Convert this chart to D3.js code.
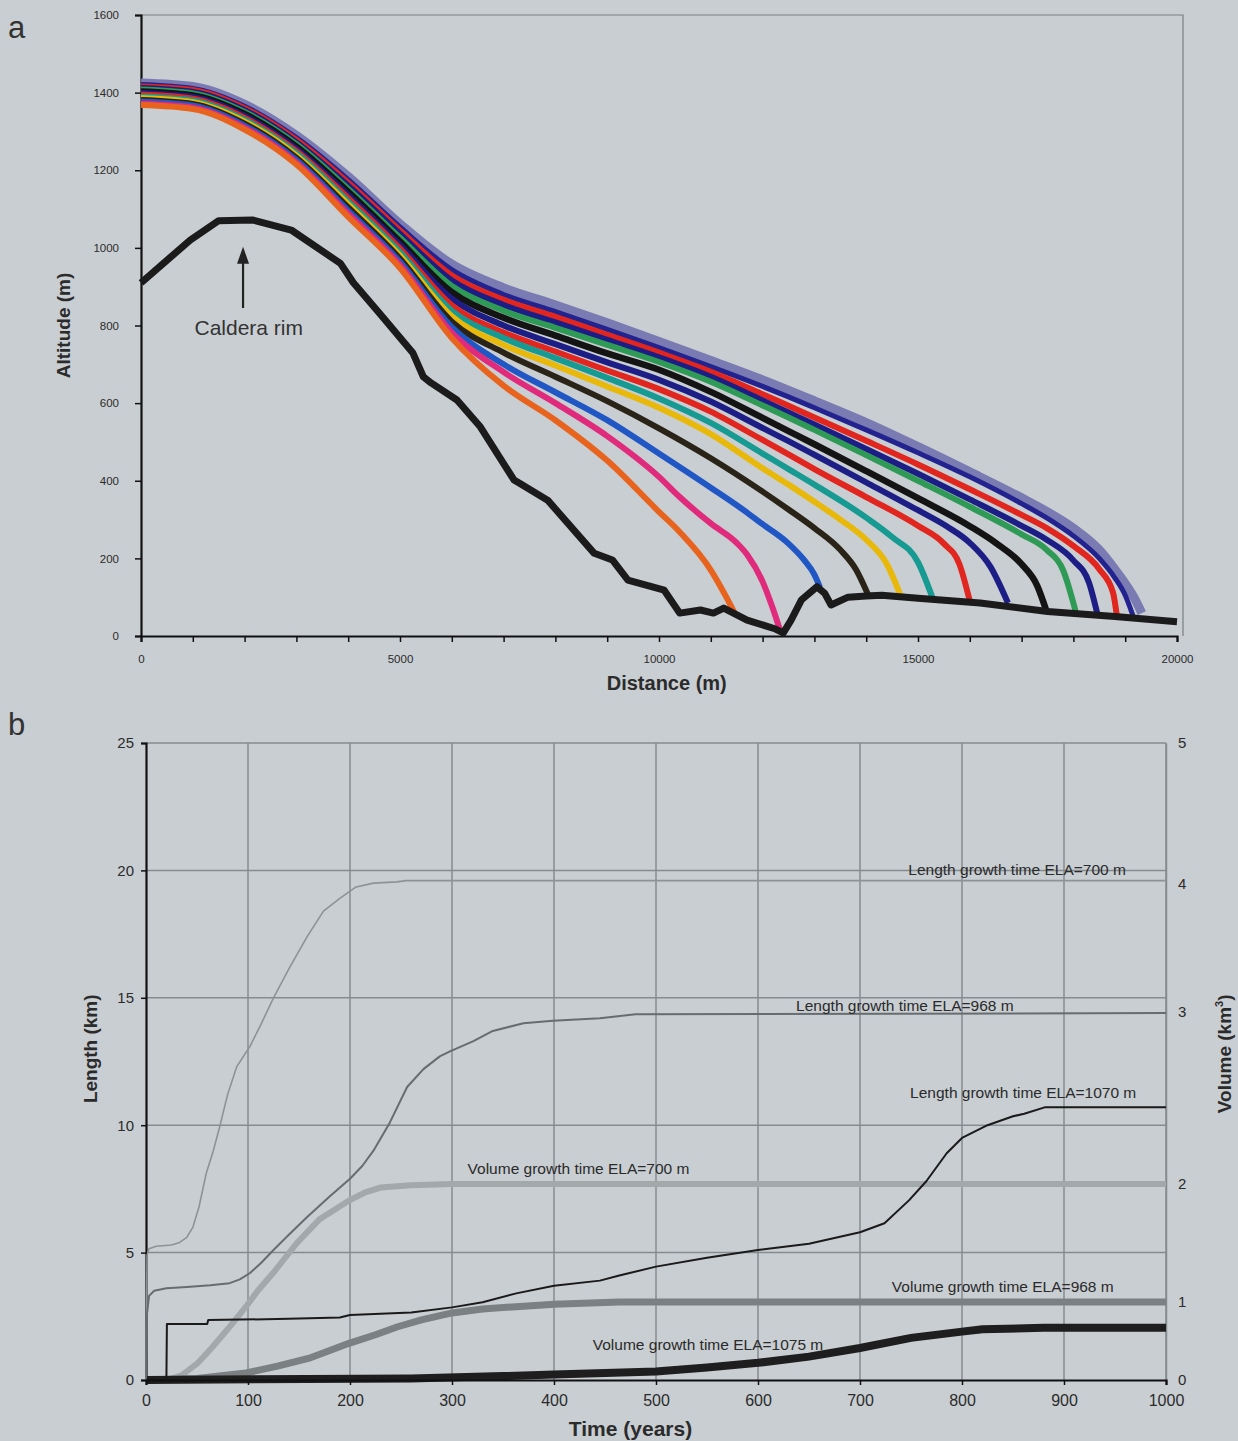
<!DOCTYPE html>
<html>
<head>
<meta charset="utf-8">
<script src="https://cdn.jsdelivr.net/npm/d3@7"></script>
<style>
    body { margin: 0; background: #c9ced2; }
    svg { display: block; font-family: "Liberation Sans", Arial, sans-serif; }
</style>
</head>
<body>
<svg id="chart" width="1238" height="1441"></svg>
<script>
// ---- panel a : glacier surface profiles (distance m, altitude m) ----
const altTicks = [0, 200, 400, 600, 800, 1000, 1200, 1400, 1600];
const distTicks = [0, 5000, 10000, 15000, 20000];

const bedrock = [[0,910],[950,1020],[1500,1070],[2150,1072],[2900,1046],[3850,960],[4100,910],[4600,832],
    [5250,729],[5450,668],[5600,652],[6100,608],[6550,539],[7200,402],[7300,394],[7850,350],[8750,213],
    [9100,196],[9400,144],[10100,118],[10400,59],[10800,67],[11050,59],[11250,72],[11700,41],[12250,18],
    [12400,8],[12550,41],[12750,93],[13050,127],[13200,110],[13320,80],[13650,100],[14000,103],[14300,105],
    [15000,97],[16200,85],[17500,63],[18800,50],[20000,37]];

const profile1 = [[0,1368],[1000,1358],[2000,1305],[3000,1215],[4000,1080],[5000,948],[6000,768],[7000,645],
    [8000,556],[9000,452],[10000,320],[10400,268],[11000,170],[11300,100],[11467,57]];
const profile2 = [[0,1372],[1000,1362],[2000,1310],[3000,1220],[4000,1088],[5000,956],[6000,782],[7000,680],
    [8000,600],[9000,515],[10000,410],[10400,358],[11000,290],[11500,240],[11700,210],[12000,140],[12200,70],[12336,15]];
const profile3 = [[0,1377],[1000,1367],[2000,1315],[3000,1226],[4000,1096],[5000,964],[6000,796],[7000,700],
    [8000,628],[9000,556],[10000,470],[11000,382],[11700,318],[12000,288],[12500,238],[12800,196],[13000,158],[13108,125]];
const profile4 = [[0,1381],[1000,1371],[2000,1320],[3000,1232],[4000,1104],[5000,972],[6000,810],[7000,730],
    [8000,668],[9000,605],[10000,535],[11000,458],[12000,372],[12500,326],[13000,278],[13500,222],[13800,172],[14054,101]];
const profile5 = [[0,1386],[1000,1375],[2000,1325],[3000,1238],[4000,1112],[5000,980],[6000,824],[7000,750],
    [8000,697],[9000,643],[10000,588],[11000,520],[12000,432],[12500,390],[13000,346],[13500,300],[14000,248],[14400,185],[14685,97]];
const profile6 = [[0,1390],[1000,1380],[2000,1330],[3000,1244],[4000,1120],[5000,989],[6000,838],[7000,768],
    [8000,716],[9000,665],[10000,612],[11000,549],[12000,470],[12500,430],[13000,390],[14000,305],[14500,255],[15000,190],[15290,95]];
const profile7 = [[0,1395],[1000,1384],[2000,1335],[3000,1249],[4000,1128],[5000,998],[6000,852],[7000,782],
    [8000,733],[9000,684],[10000,636],[11000,578],[12000,505],[12500,468],[13000,430],[14000,358],[15000,284],[15500,238],[15800,185],[16004,88]];
const profile8 = [[0,1399],[1000,1389],[2000,1340],[3000,1255],[4000,1136],[5000,1007],[6000,869],[7000,800],
    [8000,752],[9000,705],[10000,660],[11000,604],[12000,536],[12500,502],[13000,467],[14000,396],[15000,324],[15560,282],[16000,240],[16400,178],[16737,85]];
const profile9 = [[0,1403],[1000,1393],[2000,1345],[3000,1261],[4000,1144],[5000,1016],[6000,886],[7000,820],
    [8000,774],[9000,728],[10000,686],[11000,629],[12000,562],[12500,528],[13000,494],[14000,425],[15000,355],[16000,283],[16500,240],[17000,185],[17300,130],[17484,63]];
const profile10 = [[0,1408],[1000,1398],[2000,1350],[3000,1267],[4000,1152],[5000,1026],[6000,902],[7000,838],
    [8000,794],[9000,750],[10000,706],[11000,655],[12000,594],[12500,563],[13000,531],[14000,466],[15000,400],[16000,333],[17000,262],[17485,222],[17800,170],[18050,60]];
const profile11 = [[0,1412],[1000,1402],[2000,1355],[3000,1272],[4000,1160],[5000,1036],[6000,916],[7000,853],
    [8000,808],[9000,763],[10000,718],[11000,668],[12000,607],[12500,576],[13000,545],[14000,482],[15000,418],[16000,352],[17000,284],[17485,248],[18000,195],[18300,138],[18475,50]];
const profile12 = [[0,1416],[1000,1407],[2000,1360],[3000,1278],[4000,1168],[5000,1045],[6000,929],[7000,866],
    [8000,822],[9000,776],[10000,730],[11000,681],[12000,623],[12500,593],[13000,563],[14000,503],[15000,442],[16000,378],[17000,312],[17485,278],[18000,232],[18500,172],[18765,112],[18836,55]];
const profile13 = [[0,1421],[1000,1411],[2000,1365],[3000,1284],[4000,1176],[5000,1054],[6000,944],[7000,880],
    [8000,836],[9000,790],[10000,743],[11000,694],[12000,643],[12500,616],[13000,588],[14000,531],[15000,472],[16000,410],[17000,341],[17500,303],[18000,258],[18500,200],[18800,150],[19000,105],[19151,52]];
const profile14 = [[0,1425],[1000,1416],[2000,1370],[3000,1290],[4000,1184],[5000,1062],[6000,958],[7000,897],
    [8000,853],[9000,807],[10000,759],[11000,710],[12000,660],[13000,606],[14000,550],[15000,488],[16000,423],[17000,356],[17500,320],[18000,278],[18500,222],[18800,172],[19000,135],[19200,92],[19320,59]];

// ---- panel b : growth with time (years; km / km3) ----
const timeTicks = [0, 100, 200, 300, 400, 500, 600, 700, 800, 900, 1000];
const lengthTicks = [0, 5, 10, 15, 20, 25];
const volumeTicks = [0, 1, 2, 3, 4, 5];

const lengthEla700 = [[0,0],[1,4.9],[3,5.15],[10,5.25],[25,5.3],[33,5.4],[40,5.6],[46,6.0],[52,6.8],[59,8.1],
    [66,9.0],[72,9.9],[80,11.2],[89,12.3],[102,13.1],[112,13.9],[125,15.0],[141,16.2],[158,17.4],[174,18.4],
    [190,18.9],[206,19.35],[223,19.5],[246,19.55],[255,19.6],[1000,19.6]];
const lengthEla968 = [[0,0],[1,2.6],[3,3.3],[8,3.5],[20,3.6],[40,3.65],[63,3.72],[82,3.8],[92,3.95],[102,4.2],
    [113,4.6],[125,5.1],[140,5.7],[158,6.4],[180,7.2],[200,7.9],[212,8.4],[223,9.0],[239,10.1],[256,11.5],
    [272,12.2],[288,12.7],[298,12.9],[321,13.3],[340,13.7],[370,14.0],[399,14.1],[445,14.2],[480,14.35],[1000,14.4]];
const lengthEla1070 = [[0,0],[20,0],[20.5,2.2],[60,2.2],[61,2.35],[140,2.4],[190,2.45],[200,2.55],[260,2.65],
    [300,2.85],[330,3.05],[363,3.4],[400,3.7],[445,3.9],[464,4.1],[500,4.45],[550,4.8],[600,5.1],[650,5.35],
    [700,5.8],[724,6.15],[748,7.05],[765,7.8],[785,8.9],[800,9.5],[825,10.0],[850,10.35],[861,10.45],[881,10.7],[1000,10.7]];

const volumeEla700 = [[20,0],[35,0.06],[51,0.22],[65,0.42],[80,0.65],[98,0.94],[110,1.1],[125,1.25],[148,1.5],
    [170,1.7],[199,1.86],[215,1.93],[230,1.97],[260,1.99],[300,2.0],[1000,2.0]];
const volumeEla968 = [[0,0],[50,0.02],[98,0.09],[130,0.18],[160,0.28],[199,0.47],[225,0.58],[246,0.68],[270,0.77],
    [300,0.86],[330,0.91],[363,0.94],[400,0.97],[464,1.0],[1000,1.0]];
const volumeEla1075 = [[0,0],[260,0.02],[350,0.05],[400,0.07],[450,0.09],[500,0.11],[550,0.16],[600,0.22],[650,0.3],
    [700,0.41],[750,0.54],[800,0.62],[820,0.65],[880,0.67],[1000,0.67]];

const curveLabels = [
    {text: "Length growth time ELA=700 m", t: 854, v: 19.8},
    {text: "Length growth time ELA=968 m", t: 744, v: 14.5},
    {text: "Length growth time ELA=1070 m", t: 860, v: 11.05},
    {text: "Volume growth time ELA=700 m", t: 424, v: 8.1},
    {text: "Volume growth time ELA=968 m", t: 840, v: 3.45},
    {text: "Volume growth time ELA=1075 m", t: 551, v: 1.18}
];

const svg = d3.select("#chart");
const textColor = "#2b2b2b";

// ================= panel a =================
const xA = d3.scaleLinear().domain([0, 20000]).range([141, 1177]);
const yA = d3.scaleLinear().domain([0, 1600]).range([636, 15]);

const panelA = svg.append("g");

panelA.append("path")
      .attr("d", `M${xA(0)},${yA(1600)}H1183V${yA(0)}`)
      .attr("fill", "none")
      .attr("stroke", "#7a7f83")
      .attr("stroke-width", 1.2);

const axisA_left = panelA.append("g")
                         .attr("transform", `translate(${xA(0)},0)`)
                         .call(d3.axisLeft(yA).tickValues(altTicks).tickSize(6).tickPadding(16).tickFormat(d3.format("d")));
axisA_left.select(".domain").attr("stroke", "#111").attr("stroke-width", 2.2);
axisA_left.selectAll("line").attr("stroke", "#111").attr("stroke-width", 1.5);
axisA_left.selectAll("text").attr("font-size", "11.5px").attr("fill", textColor).attr("font-family", null);

const axisA_bottom = panelA.append("g")
                           .attr("transform", `translate(0,${yA(0)})`)
                           .call(d3.axisBottom(xA).tickValues(d3.range(0, 20001, 1000)).tickSize(6).tickPadding(13)
                                   .tickFormat(d => distTicks.includes(d) ? d : ""));
axisA_bottom.select(".domain").attr("stroke", "#111").attr("stroke-width", 2.2);
axisA_bottom.selectAll("line").attr("stroke", "#111").attr("stroke-width", 1.5);
axisA_bottom.selectAll("text").attr("font-size", "11.5px").attr("fill", textColor).attr("font-family", null);

const profiles = [
    {data: profile14, color: "#7a7bb2", width: 9},
    {data: profile13, color: "#23238f", width: 5},
    {data: profile12, color: "#e0261e", width: 6},
    {data: profile11, color: "#1d1d86", width: 6},
    {data: profile10, color: "#2f9a55", width: 6},
    {data: profile9, color: "#141414", width: 6.5},
    {data: profile8, color: "#1d1d86", width: 6},
    {data: profile7, color: "#e0261e", width: 6},
    {data: profile6, color: "#169a92", width: 6},
    {data: profile5, color: "#e8b90a", width: 6},
    {data: profile4, color: "#2a2418", width: 6},
    {data: profile3, color: "#2157c4", width: 6},
    {data: profile2, color: "#e02a7c", width: 6},
    {data: profile1, color: "#e8641e", width: 6}
];

const lineA = d3.line().x(d => xA(d[0])).y(d => yA(d[1])).curve(d3.curveMonotoneX);

panelA.selectAll(".profile")
      .data(profiles)
      .enter()
      .append("path")
      .attr("class", "profile")
      .attr("d", p => lineA(p.data))
      .attr("fill", "none")
      .attr("stroke", p => p.color)
      .attr("stroke-width", p => p.width)
      .attr("stroke-linejoin", "round");

panelA.append("path")
      .attr("d", d3.line().x(d => xA(d[0])).y(d => yA(d[1]))(bedrock))
      .attr("fill", "none")
      .attr("stroke", "#1b1b1b")
      .attr("stroke-width", 7)
      .attr("stroke-linejoin", "round");

// caldera rim arrow
panelA.append("line")
      .attr("x1", xA(1970)).attr("x2", xA(1970))
      .attr("y1", yA(845)).attr("y2", yA(985))
      .attr("stroke", "#222").attr("stroke-width", 2.2);
panelA.append("path")
      .attr("d", `M${xA(1970)},${yA(1003)}l-6,17h12z`)
      .attr("fill", "#222");
panelA.append("text")
      .attr("x", xA(2080)).attr("y", yA(776))
      .attr("text-anchor", "middle")
      .attr("font-size", "21px")
      .attr("fill", "#333")
      .text("Caldera rim");

panelA.append("text")
      .attr("transform", `translate(70,${yA(800)}) rotate(-90)`)
      .attr("text-anchor", "middle")
      .attr("font-size", "19px").attr("font-weight", "bold").attr("fill", textColor)
      .text("Altitude (m)");
panelA.append("text")
      .attr("x", xA(10150)).attr("y", 690)
      .attr("text-anchor", "middle")
      .attr("font-size", "20px").attr("font-weight", "bold").attr("fill", textColor)
      .text("Distance (m)");

svg.append("text").attr("x", 8).attr("y", 38).attr("font-size", "31px").attr("fill", "#333").text("a");

// ================= panel b =================
const xB = d3.scaleLinear().domain([0, 1000]).range([146, 1166]);
const yB = d3.scaleLinear().domain([0, 25]).range([1380, 743]);
// the volume axis in the figure is not evenly spaced; follow its printed tick positions
const vB = d3.scaleLinear().domain(volumeTicks).range([1380, 1302, 1184, 1012, 884, 743]);

const panelB = svg.append("g");

panelB.selectAll(".vgrid")
      .data(timeTicks.slice(1))
      .enter()
      .append("line")
      .attr("x1", d => xB(d)).attr("x2", d => xB(d))
      .attr("y1", yB(0)).attr("y2", yB(25))
      .attr("stroke", "#858b8f").attr("stroke-width", 1.5);
panelB.selectAll(".hgrid")
      .data(lengthTicks.slice(1))
      .enter()
      .append("line")
      .attr("x1", xB(0)).attr("x2", xB(1000))
      .attr("y1", d => yB(d)).attr("y2", d => yB(d))
      .attr("stroke", "#858b8f").attr("stroke-width", 1.5);

const axisB_left = panelB.append("g")
                         .attr("transform", `translate(${xB(0)},0)`)
                         .call(d3.axisLeft(yB).tickValues(lengthTicks).tickSize(5).tickPadding(7));
axisB_left.select(".domain").attr("stroke", "#111").attr("stroke-width", 2.2);
axisB_left.selectAll("line").attr("stroke", "#111").attr("stroke-width", 1.5);
axisB_left.selectAll("text").attr("font-size", "15px").attr("fill", textColor).attr("font-family", null);

const axisB_right = panelB.append("g")
                          .attr("transform", `translate(${xB(1000)},0)`)
                          .call(d3.axisRight(vB).tickValues(volumeTicks).tickSize(0).tickPadding(12).tickFormat(d3.format("d")));
axisB_right.select(".domain").attr("stroke", "#858b8f").attr("stroke-width", 1.5);
axisB_right.selectAll("text").attr("font-size", "15px").attr("fill", textColor).attr("font-family", null);

const volumeLine = d3.line().x(d => xB(d[0])).y(d => vB(d[1]));
const lengthLine = d3.line().x(d => xB(d[0])).y(d => yB(d[1]));

const volumeSeries = [
    {data: volumeEla700, color: "#a3a8ab", width: 6},
    {data: volumeEla968, color: "#7b8083", width: 7},
    {data: volumeEla1075, color: "#1e1e1e", width: 8}
];
const lengthSeries = [
    {data: lengthEla700, color: "#8d9295", width: 1.6},
    {data: lengthEla968, color: "#676c70", width: 2},
    {data: lengthEla1070, color: "#1a1a1a", width: 2}
];

panelB.selectAll(".volume")
      .data(volumeSeries)
      .enter()
      .append("path")
      .attr("d", s => volumeLine(s.data))
      .attr("fill", "none")
      .attr("stroke", s => s.color)
      .attr("stroke-width", s => s.width);

panelB.selectAll(".length")
      .data(lengthSeries)
      .enter()
      .append("path")
      .attr("d", s => lengthLine(s.data))
      .attr("fill", "none")
      .attr("stroke", s => s.color)
      .attr("stroke-width", s => s.width)
      .attr("stroke-linejoin", "round");

const axisB_bottom = panelB.append("g")
                           .attr("transform", `translate(0,${yB(0)})`)
                           .call(d3.axisBottom(xB).tickValues(timeTicks).tickSize(5).tickPadding(10).tickFormat(d3.format("d")));
axisB_bottom.select(".domain").attr("stroke", "#111").attr("stroke-width", 2.2);
axisB_bottom.selectAll("line").attr("stroke", "#111").attr("stroke-width", 1.5);
axisB_bottom.selectAll("text").attr("font-size", "16px").attr("fill", textColor).attr("font-family", null);

panelB.selectAll(".curve-label")
      .data(curveLabels)
      .enter()
      .append("text")
      .attr("x", d => xB(d.t))
      .attr("y", d => yB(d.v))
      .attr("text-anchor", "middle")
      .attr("font-size", "15.5px")
      .attr("fill", "#2a2a2a")
      .text(d => d.text);

panelB.append("text")
      .attr("transform", `translate(97,${yB(13)}) rotate(-90)`)
      .attr("text-anchor", "middle")
      .attr("font-size", "19px").attr("font-weight", "bold").attr("fill", textColor)
      .text("Length (km)");

const volTitle = panelB.append("text")
      .attr("transform", `translate(1231,${yB(12.8)}) rotate(-90)`)
      .attr("text-anchor", "middle")
      .attr("font-size", "19px").attr("font-weight", "bold").attr("fill", textColor);
volTitle.append("tspan").text("Volume (km");
volTitle.append("tspan").attr("font-size", "11px").attr("dy", -8).text("3");
volTitle.append("tspan").attr("dy", 8).text(")");

panelB.append("text")
      .attr("x", xB(475)).attr("y", 1436)
      .attr("text-anchor", "middle")
      .attr("font-size", "21px").attr("font-weight", "bold").attr("fill", textColor)
      .text("Time (years)");

svg.append("text").attr("x", 8).attr("y", 735).attr("font-size", "31px").attr("fill", "#333").text("b");
</script>
</body>
</html>
